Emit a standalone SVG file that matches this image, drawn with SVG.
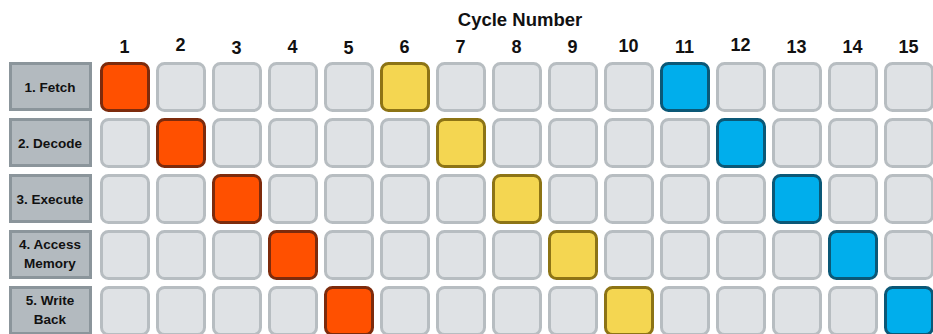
<svg xmlns="http://www.w3.org/2000/svg" width="933" height="334" viewBox="0 0 933 334">
<style>
text{font-family:"Liberation Sans",Arial,sans-serif;font-weight:bold;fill:#111;text-anchor:middle}
.t{font-size:18.5px}
.n{font-size:18px}
.l{font-size:13.5px}
.c{fill:#dfe2e5;stroke:#b7bdc1;stroke-width:3}
.o{fill:#ff5000;stroke:#7d2b0c;stroke-width:3}
.y{fill:#f4d651;stroke:#8d7415;stroke-width:3}
.b{fill:#00aeec;stroke:#0b5877;stroke-width:3}
.s{fill:#b3babf;stroke:#8b959b;stroke-width:3}
</style>
<defs>
<rect id="cell" width="47" height="47" rx="7"/>
</defs>
<rect width="933" height="334" fill="#fff"/>
<g id="header">
<text class="t" x="520" y="26">Cycle Number</text>
<text class="n" x="124.5" y="53">1</text>
<text class="n" x="180.5" y="51">2</text>
<text class="n" x="236.5" y="54">3</text>
<text class="n" x="292.5" y="53">4</text>
<text class="n" x="348.5" y="54">5</text>
<text class="n" x="404.5" y="53">6</text>
<text class="n" x="460.5" y="53">7</text>
<text class="n" x="516.5" y="53">8</text>
<text class="n" x="572.5" y="53">9</text>
<text class="n" x="628.5" y="52">10</text>
<text class="n" x="684.5" y="53">11</text>
<text class="n" x="740.5" y="51">12</text>
<text class="n" x="796.5" y="53">13</text>
<text class="n" x="852.5" y="53">14</text>
<text class="n" x="908.5" y="53">15</text>
</g>
<g id="stage1">
<rect class="s" x="10.5" y="63.5" width="80" height="46"/>
<text class="l" x="50" y="92">1. Fetch</text>
<use href="#cell" class="o" x="101.5" y="63.5"/>
<use href="#cell" class="c" x="157.5" y="63.5"/>
<use href="#cell" class="c" x="213.5" y="63.5"/>
<use href="#cell" class="c" x="269.5" y="63.5"/>
<use href="#cell" class="c" x="325.5" y="63.5"/>
<use href="#cell" class="y" x="381.5" y="63.5"/>
<use href="#cell" class="c" x="437.5" y="63.5"/>
<use href="#cell" class="c" x="493.5" y="63.5"/>
<use href="#cell" class="c" x="549.5" y="63.5"/>
<use href="#cell" class="c" x="605.5" y="63.5"/>
<use href="#cell" class="b" x="661.5" y="63.5"/>
<use href="#cell" class="c" x="717.5" y="63.5"/>
<use href="#cell" class="c" x="773.5" y="63.5"/>
<use href="#cell" class="c" x="829.5" y="63.5"/>
<use href="#cell" class="c" x="885.5" y="63.5"/>
</g>
<g id="stage2">
<rect class="s" x="10.5" y="119.5" width="80" height="46"/>
<text class="l" x="50" y="148">2. Decode</text>
<use href="#cell" class="c" x="101.5" y="119.5"/>
<use href="#cell" class="o" x="157.5" y="119.5"/>
<use href="#cell" class="c" x="213.5" y="119.5"/>
<use href="#cell" class="c" x="269.5" y="119.5"/>
<use href="#cell" class="c" x="325.5" y="119.5"/>
<use href="#cell" class="c" x="381.5" y="119.5"/>
<use href="#cell" class="y" x="437.5" y="119.5"/>
<use href="#cell" class="c" x="493.5" y="119.5"/>
<use href="#cell" class="c" x="549.5" y="119.5"/>
<use href="#cell" class="c" x="605.5" y="119.5"/>
<use href="#cell" class="c" x="661.5" y="119.5"/>
<use href="#cell" class="b" x="717.5" y="119.5"/>
<use href="#cell" class="c" x="773.5" y="119.5"/>
<use href="#cell" class="c" x="829.5" y="119.5"/>
<use href="#cell" class="c" x="885.5" y="119.5"/>
</g>
<g id="stage3">
<rect class="s" x="10.5" y="175.5" width="80" height="46"/>
<text class="l" x="50" y="204">3. Execute</text>
<use href="#cell" class="c" x="101.5" y="175.5"/>
<use href="#cell" class="c" x="157.5" y="175.5"/>
<use href="#cell" class="o" x="213.5" y="175.5"/>
<use href="#cell" class="c" x="269.5" y="175.5"/>
<use href="#cell" class="c" x="325.5" y="175.5"/>
<use href="#cell" class="c" x="381.5" y="175.5"/>
<use href="#cell" class="c" x="437.5" y="175.5"/>
<use href="#cell" class="y" x="493.5" y="175.5"/>
<use href="#cell" class="c" x="549.5" y="175.5"/>
<use href="#cell" class="c" x="605.5" y="175.5"/>
<use href="#cell" class="c" x="661.5" y="175.5"/>
<use href="#cell" class="c" x="717.5" y="175.5"/>
<use href="#cell" class="b" x="773.5" y="175.5"/>
<use href="#cell" class="c" x="829.5" y="175.5"/>
<use href="#cell" class="c" x="885.5" y="175.5"/>
</g>
<g id="stage4">
<rect class="s" x="10.5" y="231.5" width="80" height="46"/>
<text class="l" x="50" y="249">4. Access</text>
<text class="l" x="50" y="268">Memory</text>
<use href="#cell" class="c" x="101.5" y="231.5"/>
<use href="#cell" class="c" x="157.5" y="231.5"/>
<use href="#cell" class="c" x="213.5" y="231.5"/>
<use href="#cell" class="o" x="269.5" y="231.5"/>
<use href="#cell" class="c" x="325.5" y="231.5"/>
<use href="#cell" class="c" x="381.5" y="231.5"/>
<use href="#cell" class="c" x="437.5" y="231.5"/>
<use href="#cell" class="c" x="493.5" y="231.5"/>
<use href="#cell" class="y" x="549.5" y="231.5"/>
<use href="#cell" class="c" x="605.5" y="231.5"/>
<use href="#cell" class="c" x="661.5" y="231.5"/>
<use href="#cell" class="c" x="717.5" y="231.5"/>
<use href="#cell" class="c" x="773.5" y="231.5"/>
<use href="#cell" class="b" x="829.5" y="231.5"/>
<use href="#cell" class="c" x="885.5" y="231.5"/>
</g>
<g id="stage5">
<rect class="s" x="10.5" y="287.5" width="80" height="46"/>
<text class="l" x="50" y="305">5. Write</text>
<text class="l" x="50" y="324">Back</text>
<use href="#cell" class="c" x="101.5" y="287.5"/>
<use href="#cell" class="c" x="157.5" y="287.5"/>
<use href="#cell" class="c" x="213.5" y="287.5"/>
<use href="#cell" class="c" x="269.5" y="287.5"/>
<use href="#cell" class="o" x="325.5" y="287.5"/>
<use href="#cell" class="c" x="381.5" y="287.5"/>
<use href="#cell" class="c" x="437.5" y="287.5"/>
<use href="#cell" class="c" x="493.5" y="287.5"/>
<use href="#cell" class="c" x="549.5" y="287.5"/>
<use href="#cell" class="y" x="605.5" y="287.5"/>
<use href="#cell" class="c" x="661.5" y="287.5"/>
<use href="#cell" class="c" x="717.5" y="287.5"/>
<use href="#cell" class="c" x="773.5" y="287.5"/>
<use href="#cell" class="c" x="829.5" y="287.5"/>
<use href="#cell" class="b" x="885.5" y="287.5"/>
</g>
<g id="connectors"/>
</svg>
